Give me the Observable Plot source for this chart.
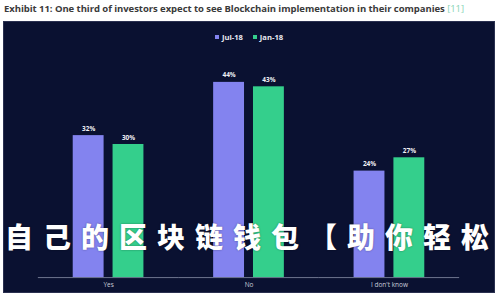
<!DOCTYPE html>
<html>
<head>
<meta charset="utf-8">
<script src="https://cdn.jsdelivr.net/npm/d3@7"></script>
<script src="https://cdn.jsdelivr.net/npm/@observablehq/plot@0.6"></script>
<style>
  body { margin:0; width:500px; height:300px; background:#fff; position:relative; overflow:hidden; font-family:"Open Sans", "Noto Sans", sans-serif; }
  #title { position:absolute; left:4px; top:2px; font-weight:700; font-size:9.5px; color:#3a3a3a; white-space:nowrap; letter-spacing:-0.05px; }
  #title span { color:#86d3b4; font-weight:400; }
  #panel { position:absolute; left:3px; top:21px; width:492px; height:272px; background:#0a1131; border:0.5px solid #2a3050; box-sizing:border-box; }
  #legend { height:30px; display:flex; justify-content:center; align-items:center; gap:10px; font-size:7.6px; font-weight:700; color:#e8eaf2; }
  #legend .item { display:flex; align-items:center; gap:3px; }
  #legend .sw { width:4px; height:4px; display:inline-block; }
  #overlay { position:absolute; left:5px; top:216px; width:492px; font-family:"Noto Sans CJK SC"; font-weight:900; font-size:28px; letter-spacing:10px; color:#fff; white-space:nowrap; text-shadow:0 0 2px rgba(0,0,0,0.4); }
  #overlay .last { letter-spacing:0; }
</style>
</head>
<body>
<div id="title"></div>
<div id="panel">
  <div id="legend"></div>
  <div id="chart"></div>
</div>
<div id="overlay"></div>
<script>
const titleText = "Exhibit 11: One third of investors expect to see Blockchain implementation in their companies";
const titleRef = "[11]";
const overlayText = "自己的区块链钱包【助你轻松";
const categories = ["Yes", "No", "I don't know"];
const series = ["Jul-18", "Jan-18"];
const jul18 = [32, 44, 24];
const jan18 = [30, 43, 27];
const colors = ["#8383ef", "#34cf8c"];

document.getElementById("title").innerHTML = titleText + ' <span>' + titleRef + '</span>';
const ov = document.getElementById("overlay");
ov.appendChild(document.createTextNode(overlayText.slice(0, -1)));
const lastSpan = document.createElement("span");
lastSpan.className = "last";
lastSpan.textContent = overlayText.slice(-1);
ov.appendChild(lastSpan);

const legend = document.getElementById("legend");
series.forEach((s, i) => {
  const item = document.createElement("div");
  item.className = "item";
  const sw = document.createElement("span");
  sw.className = "sw";
  sw.style.background = colors[i];
  const t = document.createElement("span");
  t.textContent = s;
  item.appendChild(sw); item.appendChild(t);
  legend.appendChild(item);
});

const values = [jul18, jan18];
const data = [];
categories.forEach((c, ci) => {
  series.forEach((s, si) => {
    data.push({category: c, series: s, value: values[si][ci]});
  });
});

const chart = Plot.plot({
  width: 492,
  height: 242,
  marginLeft: 34,
  marginRight: 35,
  marginTop: 30,
  marginBottom: 16,
  style: {background: "transparent", color: "#c9ccd8", fontSize: "6.5px", fontFamily: "Open Sans, sans-serif"},
  fx: {domain: categories, padding: 0, axis: "bottom", tickSize: 0, tickPadding: 5, label: null},
  x: {domain: series, paddingInner: 0.225, paddingOuter: 0.875, axis: null},
  y: {domain: [0, 44], axis: null},
  color: {domain: series, range: colors},
  marks: [
    Plot.ruleY([0], {stroke: "#8a90a8", strokeWidth: 0.8}),
    Plot.barY(data, {fx: "category", x: "series", y: "value", fill: "series"}),
    Plot.text(data, {fx: "category", x: "series", y: "value", text: d => d.value + "%", dy: -7, fill: "#f0f0f5", fontSize: 6.5, fontWeight: 700})
  ]
});
document.getElementById("chart").appendChild(chart);
</script>
</body>
</html>
